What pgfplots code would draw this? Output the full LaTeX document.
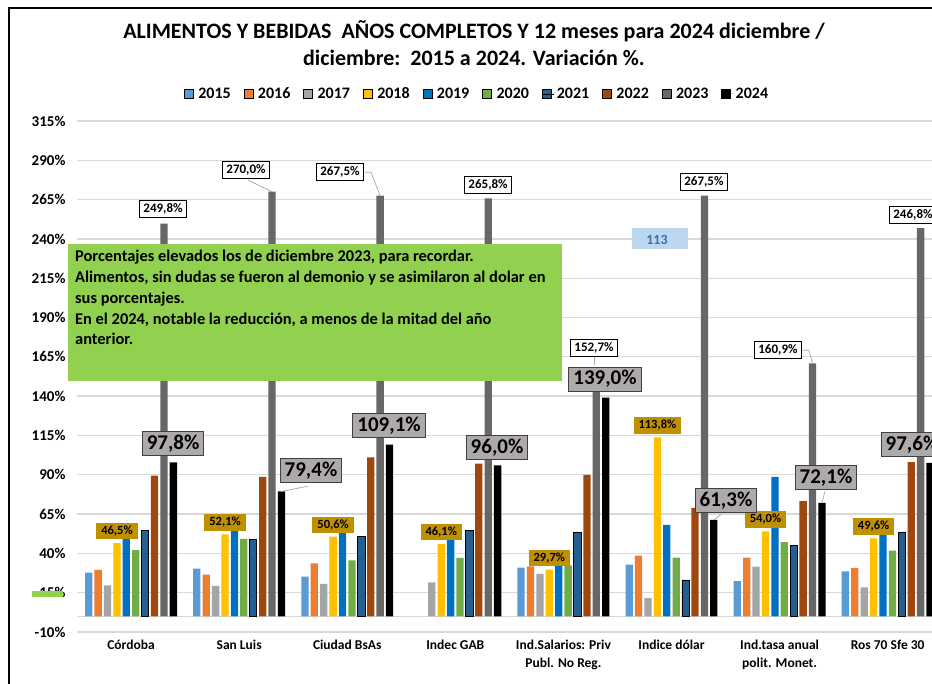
\documentclass[border=0pt]{standalone}
\usepackage{pgfplots}
\pgfplotsset{compat=1.18}
\usepackage{fontspec}
\setmainfont{Carlito}
\definecolor{c15}{HTML}{5B9BD5}
\definecolor{c16}{HTML}{ED7D31}
\definecolor{c17}{HTML}{A5A5A5}
\definecolor{c18}{HTML}{FFC000}
\definecolor{c19}{HTML}{0070C0}
\definecolor{c20}{HTML}{70AD47}
\definecolor{c21}{HTML}{255E91}
\definecolor{c22}{HTML}{9E480E}
\definecolor{c23}{HTML}{676767}
\definecolor{c24}{HTML}{000000}
\definecolor{gridc}{HTML}{D9D9D9}
\definecolor{goldl}{HTML}{BF9000}
\definecolor{grayl}{HTML}{AEAAAA}
\definecolor{greenbox}{HTML}{92D050}
\definecolor{lblue}{HTML}{BDD7EE}
\definecolor{tblue}{HTML}{2E75B6}
\definecolor{leader}{HTML}{A6A6A6}
\tikzset{
  l23/.style={draw=black, fill=white, font=\bfseries\fontsize{13}{15}\selectfont, inner xsep=4pt, inner ysep=3pt, line width=0.8pt},
  l24/.style={draw=black!75, fill=grayl, font=\bfseries\fontsize{21}{24}\selectfont, inner xsep=4.5pt, inner ysep=3.5pt, line width=1pt},
  l18/.style={fill=goldl, font=\bfseries\fontsize{12.5}{14}\selectfont, inner xsep=5pt, inner ysep=3pt, anchor=south, yshift=3.5pt},
  ld/.style={leader, line width=0.7pt}
}
\begin{document}
\begin{tikzpicture}[x=1pt,y=1pt]
\useasboundingbox (0,0) rectangle (932,684);
\fill[white] (0,0) rectangle (932,684);
\clip (0,0) rectangle (932,684);
\begin{axis}[
  at={(77pt,52pt)}, anchor=south west,
  scale only axis, width=855pt, height=511pt,
  xmin=-0.5, xmax=7.41, ymin=-10, ymax=315,
  axis line style={draw=none},
  major tick length=0pt,
  ytick={-10,15,40,65,90,115,140,165,190,215,240,265,290,315},
  yticklabels={-10\%,15\%,40\%,65\%,90\%,115\%,140\%,165\%,190\%,215\%,240\%,265\%,290\%,315\%},
  ymajorgrids, grid style={gridc, line width=1.3pt},
  extra y ticks={0}, extra y tick labels={},
  xtick={0,1,2,3,4,5,6,7},
  xticklabels={Córdoba,San Luis,Ciudad BsAs,Indec GAB,{Ind.Salarios: Priv\\Publ. No Reg.},Indice dólar,{Ind.tasa anual\\polit. Monet.},Ros 70 Sfe 30},
  xticklabel style={font=\bfseries\fontsize{13.5}{18}\selectfont, align=center, anchor=north, yshift=-5pt},
  yticklabel style={font=\bfseries\fontsize{15}{18}\selectfont, xshift=-8pt},
  ybar, bar width=0.0675,
  clip=false,
  legend columns=10,
  legend style={at={(axis description cs:0.468,1.053)}, anchor=center, draw=none, fill=none,
    font=\bfseries\fontsize{16}{18}\selectfont,
    /tikz/every even column/.append style={column sep=11pt}},
  legend image code/.code={\draw[#1] (0pt,-4.5pt) rectangle (9pt,4.5pt); \path (0pt,0pt) -- (12pt,0pt);},
]
\addplot[fill=c15, draw=none, bar shift=-0.3915] coordinates {(0,27.8) (1,30.3) (2,25.2) (4,31.0) (5,32.9) (6,22.3) (7,28.6)};
\addplot[fill=c16, draw=none, bar shift=-0.3045] coordinates {(0,29.5) (1,26.5) (2,33.7) (4,31.8) (5,38.6) (6,37.3) (7,30.7)};
\addplot[fill=c17, draw=none, bar shift=-0.2175] coordinates {(0,19.7) (1,19.3) (2,20.6) (3,21.6) (4,26.9) (5,11.5) (6,31.6) (7,18.4)};
\addplot[fill=c18, draw=none, bar shift=-0.1305] coordinates {(0,46.5) (1,52.1) (2,50.6) (3,46.1) (4,29.7) (5,113.8) (6,54.0) (7,49.6)};
\addplot[fill=c19, draw=none, bar shift=-0.0435] coordinates {(0,52) (1,55) (2,56) (3,52) (4,32.0) (5,58.1) (6,88.6) (7,54)};
\addplot[fill=c20, draw=none, bar shift=0.0435] coordinates {(0,42.0) (1,49.2) (2,35.6) (3,37.1) (4,32.4) (5,37.3) (6,47.1) (7,41.8)};
\addplot[fill=c21, draw=black, line width=0.8pt, bar shift=0.1305] coordinates {(0,54.7) (1,49.0) (2,50.9) (3,54.7) (4,53.2) (5,23.1) (6,45.2) (7,53.2)};
\addplot[fill=c22, draw=none, bar shift=0.2175] coordinates {(0,89.5) (1,88.6) (2,101.0) (3,97.1) (4,89.9) (5,68.9) (6,73.2) (7,98.0)};
\addplot[fill=c23, draw=none, bar shift=0.3045] coordinates {(0,249.8) (1,270.0) (2,267.5) (3,265.8) (4,152.7) (5,267.5) (6,160.9) (7,246.8)};
\addplot[fill=c24, draw=none, bar shift=0.3915] coordinates {(0,97.8) (1,79.4) (2,109.1) (3,96.0) (4,139.0) (5,61.3) (6,72.1) (7,97.6)};
\legend{2015,2016,2017,2018,2019,2020,2021,2022,2023,2024}
% 2018 labels
\node[l18] at (axis cs:-0.1305,46.5) {46,5\%};
\node[l18] at (axis cs:0.8695,52.1) {52,1\%};
\node[l18] at (axis cs:1.8695,50.6) {50,6\%};
\node[l18] at (axis cs:2.8695,46.1) {46,1\%};
\node[l18] at (axis cs:3.8695,29.7) {29,7\%};
\node[l18] at (axis cs:4.8695,113.8) {113,8\%};
\node[l18] at (axis cs:5.8695,54.0) {54,0\%};
\node[l18] at (axis cs:6.8695,49.6) {49,6\%};
% 2023 leaders and labels
\draw[ld] (axis cs:1.082,277.4) -- (axis cs:1.3045,270.0);
\draw[ld] (axis cs:2.16,282.4) -- (axis cs:2.22,282.4) -- (axis cs:2.3045,267.5);
\draw[ld] (axis cs:6.21,169.2) -- (axis cs:6.27,169.2) -- (axis cs:6.3045,160.9);
\draw[ld] (axis cs:4.29,165) -- (axis cs:4.29,160);
\node[l23] at (axis cs:0.296,258.9) {249,8\%};
\node[l23] at (axis cs:1.064,283.7) {270,0\%};
\node[l23] at (axis cs:1.933,282.4) {267,5\%};
\node[l23] at (axis cs:3.303,274.2) {265,8\%};
\node[l23] at (axis cs:4.283,170.5) {152,7\%};
\node[l23] at (axis cs:5.300,276.1) {267,5\%};
\node[l23] at (axis cs:5.985,169.2) {160,9\%};
\node[l23] at (axis cs:7.234,255.1) {246,8\%};
% 2024 leaders and labels
\draw[ld] (axis cs:1.3915,79.4) -- (axis cs:1.637,82.7);
\draw[ld] (axis cs:5.3915,61.3) -- (axis cs:5.46,64.8);
\draw[ld] (axis cs:6.3915,72.1) -- (axis cs:6.42,79.5);
\node[l24] at (axis cs:0.389,110.0) {97,8\%};
\node[l24] at (axis cs:1.665,92.9) {79,4\%};
\node[l24] at (axis cs:2.387,121.5) {109,1\%};
\node[l24] at (axis cs:3.386,107.5) {96,0\%};
\node[l24] at (axis cs:4.385,150.8) {139,0\%};
\node[l24] at (axis cs:5.504,73.8) {61,3\%};
\node[l24] at (axis cs:6.429,88.4) {72,1\%};
\node[l24] at (axis cs:7.225,109.4) {97,6\%};
\end{axis}
% title
\node[align=center, font=\bfseries\fontsize{22}{27}\selectfont] at (474,640.5)
  {ALIMENTOS Y BEBIDAS\ \ AÑOS COMPLETOS Y 12 meses para 2024 diciembre /\\diciembre:\ \ 2015 a 2024. Variación \%.};
% green note box
\fill[greenbox] (68,303) rectangle (562,440);
\node[anchor=north west, align=left, font=\bfseries\fontsize{16.4}{20.8}\selectfont, inner sep=0pt] at (75,434)
  {Porcentajes elevados los de diciembre 2023, para recordar.\\
   Alimentos, sin dudas se fueron al demonio y se asimilaron al dolar en\\
   sus porcentajes.\\
   En el 2024, notable la reducción, a menos de la mitad del año\\
   anterior.};
% small blue box
\fill[lblue] (632,435) rectangle (688,456);
\node[font=\bfseries\fontsize{14}{16}\selectfont, text=tblue] at (657,444) {113};
% small green artefact at left
\fill[greenbox] (32,87) rectangle (63,93);
% frame
\draw[line width=1.6pt, black] (9,0) -- (9,676) -- (940,676);
\end{tikzpicture}
\end{document}
